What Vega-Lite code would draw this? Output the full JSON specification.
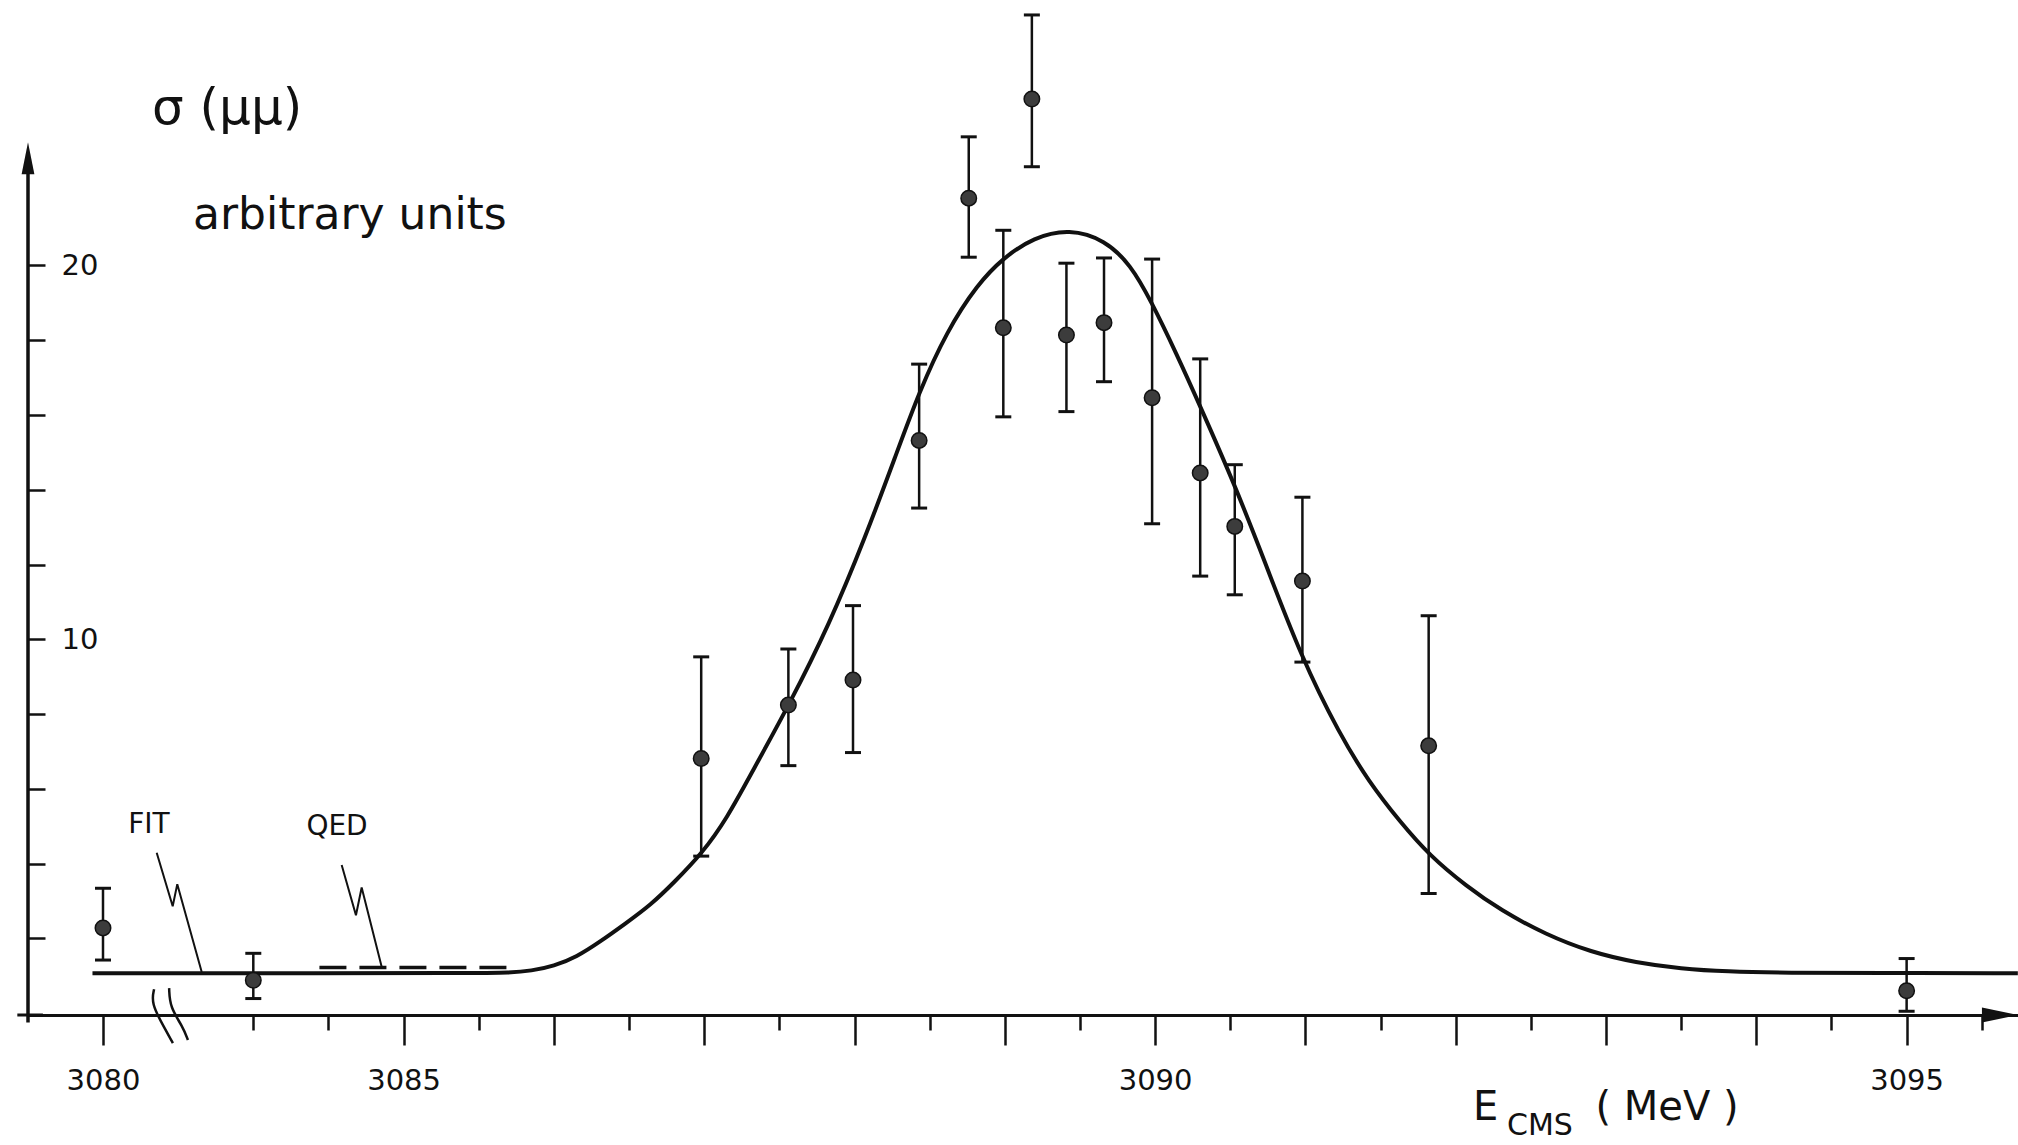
{
  "$schema": "https://vega.github.io/schema/vega-lite/v6.json",
  "width": 1990,
  "height": 1015,
  "autosize": {"type": "none"},
  "padding": {"left": 28, "top": 0, "right": 0, "bottom": 130},
  "background": "white",
  "config": {
    "view": {"stroke": null},
    "font": "DejaVu Sans",
    "axis": {"grid": false, "domainColor": "#111", "tickColor": "#111", "labelColor": "#111", "labelFont": "DejaVu Sans"}
  },
  "datasets": {
    "fit": [
      {"E": 3079.93, "sigma": 1.07}, {"E": 3084.0, "sigma": 1.07}, {"E": 3085.5, "sigma": 1.07},
      {"E": 3085.7, "sigma": 1.08}, {"E": 3085.85, "sigma": 1.13}, {"E": 3086.0, "sigma": 1.26},
      {"E": 3086.15, "sigma": 1.5}, {"E": 3086.31, "sigma": 1.92}, {"E": 3086.47, "sigma": 2.38},
      {"E": 3086.646, "sigma": 2.9}, {"E": 3086.8, "sigma": 3.5}, {"E": 3086.985, "sigma": 4.27},
      {"E": 3087.15, "sigma": 5.2}, {"E": 3087.325, "sigma": 6.5}, {"E": 3087.563, "sigma": 8.23},
      {"E": 3087.834, "sigma": 10.41}, {"E": 3088.072, "sigma": 12.73}, {"E": 3088.275, "sigma": 14.92},
      {"E": 3088.428, "sigma": 16.6}, {"E": 3088.615, "sigma": 18.25}, {"E": 3088.819, "sigma": 19.5},
      {"E": 3088.989, "sigma": 20.2}, {"E": 3089.192, "sigma": 20.75}, {"E": 3089.43, "sigma": 20.98},
      {"E": 3089.667, "sigma": 20.68}, {"E": 3089.837, "sigma": 20.02}, {"E": 3089.973, "sigma": 19.05},
      {"E": 3090.142, "sigma": 17.64}, {"E": 3090.295, "sigma": 16.28}, {"E": 3090.533, "sigma": 14.1},
      {"E": 3090.72, "sigma": 12.18}, {"E": 3090.974, "sigma": 9.5}, {"E": 3091.229, "sigma": 7.45},
      {"E": 3091.42, "sigma": 6.2}, {"E": 3091.629, "sigma": 5.12}, {"E": 3091.83, "sigma": 4.2},
      {"E": 3092.07, "sigma": 3.4}, {"E": 3092.3, "sigma": 2.75}, {"E": 3092.6, "sigma": 2.1},
      {"E": 3092.9, "sigma": 1.63}, {"E": 3093.2, "sigma": 1.35}, {"E": 3093.5, "sigma": 1.19},
      {"E": 3093.8, "sigma": 1.11}, {"E": 3094.2, "sigma": 1.075}, {"E": 3094.8, "sigma": 1.07},
      {"E": 3095.74, "sigma": 1.07}
    ],
    "qed": [{"E": 3084.44, "sigma": 1.22}, {"E": 3085.71, "sigma": 1.22}],
    "pts": [
      {"E": 3080.0, "sigma": 2.28, "lo": 1.42, "hi": 3.34},
      {"E": 3084.0, "sigma": 0.88, "lo": 0.39, "hi": 1.6},
      {"E": 3086.98, "sigma": 6.81, "lo": 4.2, "hi": 9.53},
      {"E": 3087.56, "sigma": 8.24, "lo": 6.62, "hi": 9.74},
      {"E": 3087.99, "sigma": 8.91, "lo": 6.97, "hi": 10.9},
      {"E": 3088.43, "sigma": 15.32, "lo": 13.51, "hi": 17.36},
      {"E": 3088.76, "sigma": 21.8, "lo": 20.22, "hi": 23.44},
      {"E": 3088.99, "sigma": 18.33, "lo": 15.95, "hi": 20.94},
      {"E": 3089.18, "sigma": 24.45, "lo": 22.64, "hi": 26.7},
      {"E": 3089.41, "sigma": 18.14, "lo": 16.09, "hi": 20.06},
      {"E": 3089.66, "sigma": 18.47, "lo": 16.89, "hi": 20.2},
      {"E": 3089.98, "sigma": 16.46, "lo": 13.09, "hi": 20.17},
      {"E": 3090.3, "sigma": 14.45, "lo": 11.69, "hi": 17.5},
      {"E": 3090.53, "sigma": 13.02, "lo": 11.19, "hi": 14.67},
      {"E": 3090.98, "sigma": 11.56, "lo": 9.39, "hi": 13.8},
      {"E": 3091.82, "sigma": 7.15, "lo": 3.2, "hi": 10.63},
      {"E": 3095.0, "sigma": 0.6, "lo": 0.05, "hi": 1.46}
    ],
    "labels": [
      {"id": "ylab", "E": 3081.304, "sigma": 24.18, "text": "σ (μμ)"},
      {"id": "units", "E": 3082.395, "sigma": 21.32, "text": "arbitrary units"},
      {"id": "fit", "E": 3081.224, "sigma": 5.03, "text": "FIT"},
      {"id": "qed", "E": 3084.557, "sigma": 4.98, "text": "QED"},
      {"id": "xE", "E": 3092.115, "sigma": -2.53, "text": "E"},
      {"id": "xCMS", "E": 3092.341, "sigma": -3.03, "text": "CMS"},
      {"id": "xMeV", "E": 3092.93, "sigma": -2.53, "text": "( MeV )"}
    ],
    "leaders": [
      {"name": "FIT", "order": 1, "E": 3081.429, "sigma": 4.29},
      {"name": "FIT", "order": 2, "E": 3081.855, "sigma": 2.86},
      {"name": "FIT", "order": 3, "E": 3081.977, "sigma": 3.45},
      {"name": "FIT", "order": 4, "E": 3082.627, "sigma": 1.1},
      {"name": "QED", "order": 1, "E": 3084.588, "sigma": 3.96},
      {"name": "QED", "order": 2, "E": 3084.683, "sigma": 2.62},
      {"name": "QED", "order": 3, "E": 3084.721, "sigma": 3.36},
      {"name": "QED", "order": 4, "E": 3084.854, "sigma": 1.24}
    ],
    "breaks": [
      {"stroke": "a", "order": 1, "E": 3081.36, "sigma": 0.64},
      {"stroke": "a", "order": 2, "E": 3081.28, "sigma": 0.27},
      {"stroke": "a", "order": 3, "E": 3081.62, "sigma": -0.37},
      {"stroke": "a", "order": 4, "E": 3081.86, "sigma": -0.8},
      {"stroke": "b", "order": 1, "E": 3081.76, "sigma": 0.67},
      {"stroke": "b", "order": 2, "E": 3081.78, "sigma": 0.16},
      {"stroke": "b", "order": 3, "E": 3082.13, "sigma": -0.37},
      {"stroke": "b", "order": 4, "E": 3082.26, "sigma": -0.72}
    ],
    "yaxisline": [{"E": 3079.501, "lo": -0.25, "hi": 22.6}],
    "xaxisext": [{"E": 3079.43, "E2": 3079.6, "sigma": -0.05}],
    "xarrow": [{"E": 3095.621, "sigma": -0.05}],
    "yarrow": [{"E": 3079.501, "sigma": 22.87}]
  },
  "layer": [
    {
      "data": {"name": "fit"},
      "mark": {"type": "line", "interpolate": "basis", "color": "#111", "strokeWidth": 4},
      "encoding": {
        "x": {
          "field": "E", "type": "quantitative",
          "scale": {"domain": [3079.501, 3080, 3084, 3095.741], "range": [0, 75, 225.3, 1990], "zero": false, "nice": false},
          "axis": {
            "title": null,
            "values": [3080, 3084, 3084.5, 3085, 3085.5, 3086, 3086.5, 3087, 3087.5, 3088, 3088.5, 3089, 3089.5, 3090, 3090.5, 3091, 3091.5, 3092, 3092.5, 3093, 3093.5, 3094, 3094.5, 3095, 3095.5],
            "tickSize": {"condition": {"test": "datum.value == 3080 || (datum.value >= 3085 && datum.value % 1 == 0)", "value": 30}, "value": 15},
            "tickWidth": 2.5,
            "domainWidth": 3,
            "labelPadding": 21,
            "labelFontSize": 29,
            "labelOverlap": false,
            "labelFlush": false,
            "labelBound": false,
            "labelExpr": "(datum.value == 3080 || datum.value == 3085 || datum.value == 3090 || datum.value == 3095) ? '' + datum.value : ''"
          }
        },
        "y": {
          "field": "sigma", "type": "quantitative",
          "scale": {"domain": [-0.05, 27.1], "zero": false, "nice": false},
          "axis": {
            "title": null,
            "domain": false,
            "values": [2, 4, 6, 8, 10, 12, 14, 16, 18, 20],
            "tickSize": -17,
            "tickWidth": 2.5,
            "labelAlign": "left",
            "labelBaseline": "middle",
            "labelPadding": -16,
            "labelFontSize": 29,
            "labelExpr": "(datum.value == 10 || datum.value == 20) ? '' + datum.value : ''"
          }
        }
      }
    },
    {
      "data": {"name": "qed"},
      "mark": {"type": "line", "strokeDash": [27, 13], "strokeWidth": 3.5, "color": "#111"},
      "encoding": {
        "x": {"field": "E", "type": "quantitative"},
        "y": {"field": "sigma", "type": "quantitative"}
      }
    },
    {
      "data": {"name": "yaxisline"},
      "mark": {"type": "rule", "strokeWidth": 3.5, "color": "#111"},
      "encoding": {
        "x": {"field": "E", "type": "quantitative"},
        "y": {"field": "lo", "type": "quantitative"},
        "y2": {"field": "hi"}
      }
    },
    {
      "data": {"name": "xaxisext"},
      "mark": {"type": "rule", "strokeWidth": 3, "color": "#111"},
      "encoding": {
        "x": {"field": "E", "type": "quantitative"},
        "x2": {"field": "E2"},
        "y": {"field": "sigma", "type": "quantitative"}
      }
    },
    {
      "data": {"name": "xarrow"},
      "mark": {"type": "point", "filled": true, "opacity": 1, "color": "#111", "size": 1296, "shape": "M-1,-0.42L1,0L-1,0.42Z"},
      "encoding": {
        "x": {"field": "E", "type": "quantitative"},
        "y": {"field": "sigma", "type": "quantitative"}
      }
    },
    {
      "data": {"name": "yarrow"},
      "mark": {"type": "point", "filled": true, "opacity": 1, "color": "#111", "size": 1024, "shape": "M-0.4,1L0,-1L0.4,1Z"},
      "encoding": {
        "x": {"field": "E", "type": "quantitative"},
        "y": {"field": "sigma", "type": "quantitative"}
      }
    },
    {
      "data": {"name": "pts"},
      "mark": {"type": "rule", "strokeWidth": 2.5, "color": "#111"},
      "encoding": {
        "x": {"field": "E", "type": "quantitative"},
        "y": {"field": "lo", "type": "quantitative"},
        "y2": {"field": "hi"}
      }
    },
    {
      "data": {"name": "pts"},
      "mark": {"type": "tick", "orient": "horizontal", "size": 16, "thickness": 3, "color": "#111", "opacity": 1},
      "encoding": {
        "x": {"field": "E", "type": "quantitative"},
        "y": {"field": "hi", "type": "quantitative"}
      }
    },
    {
      "data": {"name": "pts"},
      "mark": {"type": "tick", "orient": "horizontal", "size": 16, "thickness": 3, "color": "#111", "opacity": 1},
      "encoding": {
        "x": {"field": "E", "type": "quantitative"},
        "y": {"field": "lo", "type": "quantitative"}
      }
    },
    {
      "data": {"name": "pts"},
      "mark": {"type": "point", "shape": "circle", "filled": true, "opacity": 1, "size": 240, "color": "#3c3c3c", "stroke": "#111", "strokeWidth": 1.5},
      "encoding": {
        "x": {"field": "E", "type": "quantitative"},
        "y": {"field": "sigma", "type": "quantitative"}
      }
    },
    {
      "data": {"name": "leaders"},
      "mark": {"type": "line", "strokeWidth": 2, "color": "#111"},
      "encoding": {
        "x": {"field": "E", "type": "quantitative"},
        "y": {"field": "sigma", "type": "quantitative"},
        "detail": {"field": "name"},
        "order": {"field": "order", "type": "quantitative"}
      }
    },
    {
      "data": {"name": "breaks"},
      "mark": {"type": "line", "interpolate": "basis", "strokeWidth": 2.5, "color": "#111"},
      "encoding": {
        "x": {"field": "E", "type": "quantitative"},
        "y": {"field": "sigma", "type": "quantitative"},
        "detail": {"field": "stroke"},
        "order": {"field": "order", "type": "quantitative"}
      }
    },
    {
      "data": {"name": "labels"},
      "transform": [{"filter": "datum.id == 'ylab'"}],
      "mark": {"type": "text", "align": "left", "baseline": "middle", "fontSize": 50, "color": "#111"},
      "encoding": {
        "x": {"field": "E", "type": "quantitative"},
        "y": {"field": "sigma", "type": "quantitative"},
        "text": {"field": "text"}
      }
    },
    {
      "data": {"name": "labels"},
      "transform": [{"filter": "datum.id == 'units'"}],
      "mark": {"type": "text", "align": "left", "baseline": "middle", "fontSize": 44, "color": "#111"},
      "encoding": {
        "x": {"field": "E", "type": "quantitative"},
        "y": {"field": "sigma", "type": "quantitative"},
        "text": {"field": "text"}
      }
    },
    {
      "data": {"name": "labels"},
      "transform": [{"filter": "datum.id == 'fit' || datum.id == 'qed'"}],
      "mark": {"type": "text", "align": "center", "baseline": "middle", "fontSize": 28, "color": "#111"},
      "encoding": {
        "x": {"field": "E", "type": "quantitative"},
        "y": {"field": "sigma", "type": "quantitative"},
        "text": {"field": "text"}
      }
    },
    {
      "data": {"name": "labels"},
      "transform": [{"filter": "datum.id == 'xE' || datum.id == 'xMeV'"}],
      "mark": {"type": "text", "align": "left", "baseline": "middle", "fontSize": 40, "color": "#111"},
      "encoding": {
        "x": {"field": "E", "type": "quantitative"},
        "y": {"field": "sigma", "type": "quantitative"},
        "text": {"field": "text"}
      }
    },
    {
      "data": {"name": "labels"},
      "transform": [{"filter": "datum.id == 'xCMS'"}],
      "mark": {"type": "text", "align": "left", "baseline": "middle", "fontSize": 30, "color": "#111"},
      "encoding": {
        "x": {"field": "E", "type": "quantitative"},
        "y": {"field": "sigma", "type": "quantitative"},
        "text": {"field": "text"}
      }
    }
  ]
}
